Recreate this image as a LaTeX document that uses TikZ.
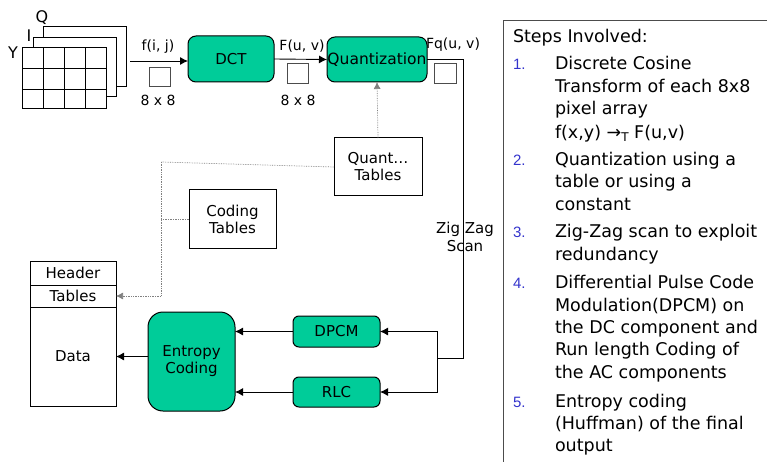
\documentclass[tikz,border=0pt]{standalone}
\usepackage{fontspec}
\setmainfont{DejaVu Sans}
\newfontfamily\numfont{Liberation Sans}
\usetikzlibrary{arrows.meta}
\definecolor{jgreen}{RGB}{0,204,153}
\definecolor{numblue}{RGB}{51,51,204}
\begin{document}
\begin{tikzpicture}[x=1pt,y=-1pt,
  every node/.style={inner sep=0pt, outer sep=0pt},
  arr/.style={-{Latex[length=8pt,width=8pt]}, line width=0.9pt},
  dotline/.style={densely dotted, gray, line width=0.7pt},
  gbox/.style={draw, line width=1pt, fill=jgreen, rounded corners=8pt, font=\fontsize{15}{17}\selectfont},
  wbox/.style={draw, line width=1pt, fill=white, font=\fontsize{15}{17}\selectfont, align=center},
  sq/.style={draw=black!70, line width=0.9pt, fill=white},
  lab/.style={font=\fontsize{14}{16}\selectfont},
  ptxt/.style={anchor=base west, font=\fontsize{17.5}{20}\selectfont},
  pnum/.style={anchor=base west, font=\numfont\fontsize{15}{17}\selectfont, text=numblue}
]
\useasboundingbox (0,0) rectangle (767,462);
% image stack
\draw[line width=0.9pt, fill=white] (43.3,26) rectangle (126,86.7);
\draw[line width=0.9pt, fill=white] (33,37.3) rectangle (116,96.7);
\draw[line width=0.9pt, fill=white] (22.7,47.3) rectangle (106.7,108.3);
\foreach \xx in {43.3,64.3,85.7} \draw[line width=0.9pt] (\xx,47.3) -- (\xx,108.3);
\foreach \yy in {68.3,89} \draw[line width=0.9pt] (22.7,\yy) -- (106.7,\yy);
\node[font=\fontsize{16}{18}\selectfont] (lq) at (42,17.5) {Q};
\node[font=\fontsize{16}{18}\selectfont] (li) at (29,36) {I};
\node[font=\fontsize{16}{18}\selectfont] (ly) at (13,53) {Y};
\coordinate (src) at (130,61);
% top chain
\node[gbox, minimum width=86, minimum height=46] (dct) at (231,59) {DCT};
\node[gbox, minimum width=100, minimum height=45, font=\fontsize{15.5}{17}\selectfont] (quant) at (377,59.5) {Quantization};
\draw[arr] (src) -- (src -| dct.west);
\draw[arr] (dct.east) -- (quant.west);
\node[lab] (lf) at (158,47) {f(i, j)};
\node[sq, minimum width=21, minimum height=19] (sq1) at (159.5,76.5) {};
\node[lab] (l88a) at (158,100) {8 x 8};
\node[lab] (lF) at (302,46) {F(u, v)};
\node[sq, minimum width=21, minimum height=20] (sq2) at (297.5,73) {};
\node[lab] (l88b) at (298,100) {8 x 8};
\node[lab] (lFq) at (453,45) {Fq(u, v)};
\node[sq, minimum width=22, minimum height=20] (sq3) at (445,73) {};
% tables
\node[wbox, minimum width=88, minimum height=58] (qt) at (378,167) {Quant…\\Tables};
\node[wbox, minimum width=87, minimum height=58] (ct) at (232.5,219) {Coding\\Tables};
\draw[dotline, -{Latex[length=7pt,width=7pt]}] (qt.north) -- (quant.south);
% output file
\node[wbox, minimum width=86, minimum height=24] (hdr) at (73,273) {Header};
\node[wbox, minimum width=86, minimum height=22] (tbl) at (73,296) {Tables};
\node[wbox, minimum width=86, minimum height=99] (data) at (73,356.5) {Data};
\coordinate (dj) at (161,162);
\draw[dotline] (qt.west) -- (dj);
\draw[dotline] (ct.west) -- (dj |- ct.west);
\draw[dotline, -{Latex[length=7pt,width=7pt]}] (dj) -- (dj |- tbl.east) -- (tbl.east);
% entropy part
\node[gbox, rounded corners=15pt, minimum width=87, minimum height=99, align=center] (ent) at (191.5,361.5) {Entropy\\Coding};
\node[gbox, rounded corners=6pt, minimum width=87, minimum height=31] (dpcm) at (336.5,331.5) {DPCM};
\node[gbox, rounded corners=6pt, minimum width=87, minimum height=30] (rlc) at (336.5,392) {RLC};
\draw[arr] (ent.west |- data.east) -- (data.east);
\draw[arr] (dpcm.west) -- (ent.east |- dpcm.west);
\draw[arr] (rlc.west) -- (ent.east |- rlc.west);
\coordinate (zz) at (463,358);
\coordinate (br) at (437,358);
\draw[line width=0.9pt] (quant.east) -- (zz |- quant.east) -- (zz) -- (br);
\draw[arr] (br) -- (br |- dpcm.east) -- (dpcm.east);
\draw[arr] (br) -- (br |- rlc.east) -- (rlc.east);
\node[font=\fontsize{15}{18}\selectfont, align=center] (zzl) at (465,237) {Zig Zag\\Scan};
% right panel
\draw[line width=0.9pt, black!70] (767,20) -- (503,20) -- (503,462);
\node[ptxt] (t0) at (513,43) {Steps Involved:};
\node[pnum] (n1) at (513,70) {1.};
\node[ptxt] (t1a) at (555,70) {Discrete Cosine};
\node[ptxt] (t1b) at (555,93) {Transform of each 8x8};
\node[ptxt] (t1c) at (555,115) {pixel array};
\node[ptxt] (t1d) at (555,139) {f(x,y) →\raisebox{-3pt}{\fontsize{12}{13}\selectfont T} F(u,v)};
\node[pnum] (n2) at (513,166) {2.};
\node[ptxt] (t2a) at (555,166) {Quantization using a};
\node[ptxt] (t2b) at (555,188) {table or using a};
\node[ptxt] (t2c) at (555,211) {constant};
\node[pnum] (n3) at (513,237) {3.};
\node[ptxt] (t3a) at (555,237) {Zig-Zag scan to exploit};
\node[ptxt] (t3b) at (555,260) {redundancy};
\node[pnum] (n4) at (513,288) {4.};
\node[ptxt] (t4a) at (555,288) {Differential Pulse Code};
\node[ptxt] (t4b) at (555,311) {Modulation(DPCM) on};
\node[ptxt] (t4c) at (555,333) {the DC component and};
\node[ptxt] (t4d) at (555,355) {Run length Coding of};
\node[ptxt] (t4e) at (555,378) {the AC components};
\node[pnum] (n5) at (513,407) {5.};
\node[ptxt] (t5a) at (555,407) {Entropy coding};
\node[ptxt] (t5b) at (555,429) {(Huffman) of the final};
\node[ptxt] (t5c) at (555,451) {output};
\end{tikzpicture}
\end{document}
